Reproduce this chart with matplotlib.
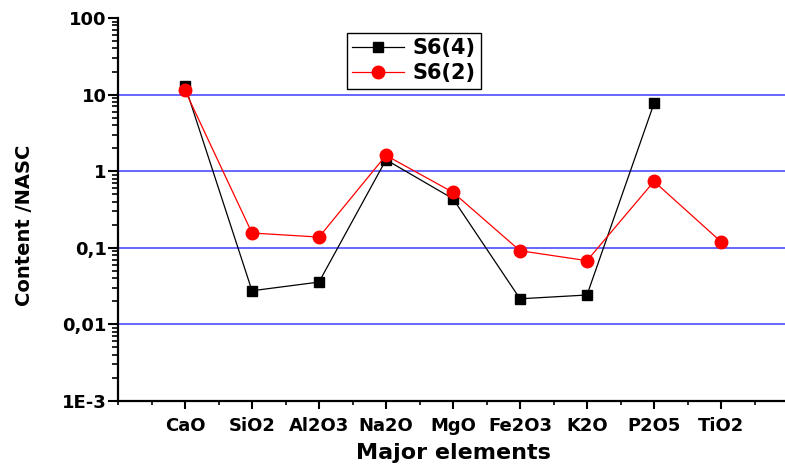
import matplotlib
matplotlib.use("Agg")
import matplotlib.pyplot as plt
from matplotlib.ticker import FixedLocator, LogLocator, NullFormatter, MultipleLocator

plt.rcParams['font.family'] = ['DejaVu Sans']
plt.rcParams['font.weight'] = 'bold'

# Major oxides normalised to NASC
elements = ["CaO", "SiO2", "Al2O3", "Na2O", "MgO", "Fe2O3", "K2O", "P2O5", "TiO2"]
s6_4 = [13.1, 0.0275, 0.0357, 1.41, 0.437, 0.0216, 0.0242, 7.67]
s6_2 = [11.35, 0.156, 0.138, 1.61, 0.529, 0.0916, 0.0679, 0.736, 0.120]

y_ticks = [1e-3, 1e-2, 1e-1, 1, 10, 100]
y_tick_labels = ["1E-3", "0,01", "0,1", "1", "10", "100"]
grid_levels = [1e-2, 1e-1, 1, 10]

fig = plt.figure(figsize=(7.85, 4.73), dpi=100)
ax = fig.add_axes([118 / 785, 72 / 473, 670 / 785, 383 / 473])

x4 = list(range(1, len(s6_4) + 1))
x2 = list(range(1, len(s6_2) + 1))

for g in grid_levels:
    ax.axhline(g, color="#5a5aff", lw=1.3, zorder=1)

ax.plot(x4, s6_4, color="black", lw=0.9, marker="s", markersize=7.5,
        markerfacecolor="black", markeredgecolor="black", label="S6(4)", zorder=3)
ax.plot(x2, s6_2, color="red", lw=0.9, marker="o", markersize=9,
        markerfacecolor="red", markeredgecolor="red", label="S6(2)", zorder=4)

ax.set_yscale("log")
ax.set_ylim(1e-3, 100)
ax.set_xlim(0, 10)

ax.yaxis.set_major_locator(FixedLocator(y_ticks))
ax.set_yticklabels(y_tick_labels)
ax.yaxis.set_minor_locator(LogLocator(base=10, subs=range(2, 10)))
ax.yaxis.set_minor_formatter(NullFormatter())

ax.set_xticks(range(1, len(elements) + 1))
ax.set_xticklabels(elements)
ax.xaxis.set_minor_locator(MultipleLocator(0.5))

ax.spines["top"].set_visible(False)
ax.spines["right"].set_visible(False)
ax.spines["left"].set_linewidth(1.6)
ax.spines["bottom"].set_linewidth(1.6)

ax.tick_params(axis="y", which="major", direction="out", length=7, width=1.5,
               labelsize=13, pad=1)
ax.tick_params(axis="y", which="minor", direction="out", length=4.5, width=1.2)
ax.tick_params(axis="x", which="major", direction="out", length=5.5, width=1.5,
               labelsize=13, pad=6)
ax.tick_params(axis="x", which="minor", direction="out", length=3, width=1.2)
for lab in ax.get_xticklabels() + ax.get_yticklabels():
    lab.set_fontweight("bold")

ax.set_xlabel("Major elements", fontsize=16, fontweight="bold", labelpad=6)
ax.set_ylabel("Content /NASC", fontsize=14, fontweight="bold")
ax.yaxis.set_label_coords(-0.126, 0.46)

leg = ax.legend(loc="upper left", bbox_to_anchor=(347 / 785, 1 - 33 / 473),
                bbox_transform=fig.transFigure, fontsize=15, frameon=True,
                fancybox=False, framealpha=1, edgecolor="black",
                handlelength=2.5, handletextpad=0.4, borderpad=0.25,
                labelspacing=0.25, borderaxespad=0)
leg.get_frame().set_linewidth(1.0)
for t in leg.get_texts():
    t.set_fontweight("bold")

fig.savefig("out.png", dpi=100)
